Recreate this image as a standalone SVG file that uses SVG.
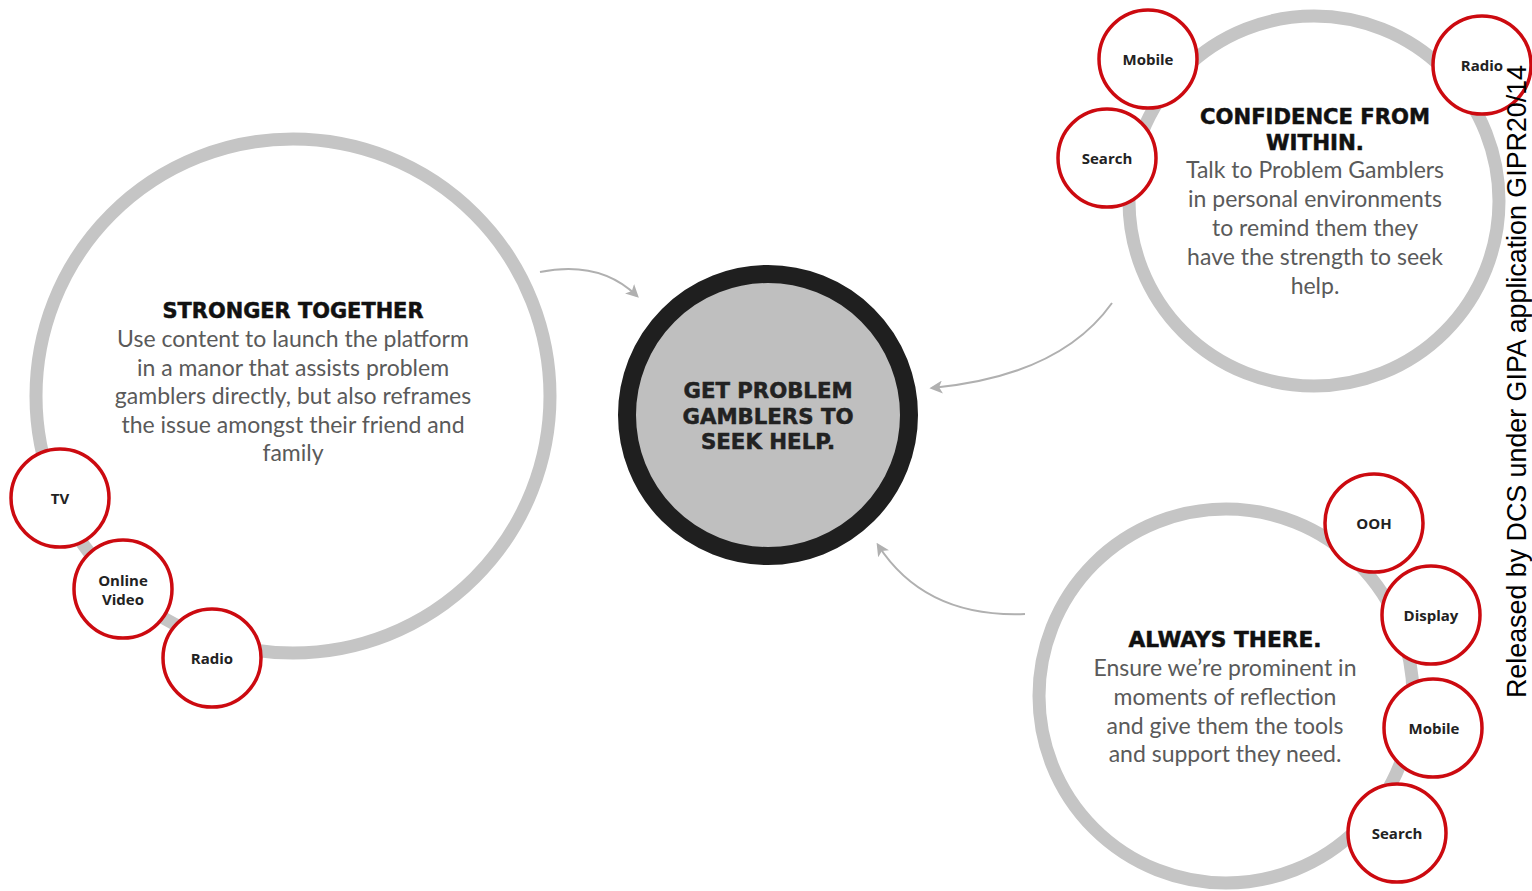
<svg xmlns="http://www.w3.org/2000/svg" width="1532" height="891" viewBox="0 0 1532 891">
<defs>
<style>
.ring{fill:#fff;stroke:#c5c5c5;stroke-width:13}
.chip{fill:#fff;stroke:#cc0a10;stroke-width:3.5}
.chiptxt{font-family:"Open Sans","Lato","Liberation Sans",sans-serif;font-weight:700;font-size:15px;fill:#222;text-anchor:middle}
.head{font-family:"DejaVu Sans","Liberation Sans",sans-serif;font-weight:700;font-size:21px;fill:#111;stroke:#111;stroke-width:0.5;text-anchor:middle}
.body{font-family:"Lato","Liberation Sans",sans-serif;font-weight:400;font-size:23px;fill:#5a5a5a;text-anchor:middle}
.conn{fill:none;stroke:#b0b0b0;stroke-width:2}
.note{font-family:"Liberation Sans",Arial,sans-serif;font-size:28px;fill:#000}
</style>
<marker id="ah" viewBox="0 0 10 10" refX="8" refY="5" markerWidth="13" markerHeight="13" orient="auto" markerUnits="userSpaceOnUse">
<path d="M0,0 L10,5 L0,10 L2.5,5 z" fill="#b0b0b0"/>
</marker>
</defs>
<rect width="1532" height="891" fill="#fff"/>

<g id="connectors">
<path class="conn" d="M540,272 Q600,260 637,296" marker-end="url(#ah)"/>
<path class="conn" d="M1112,303 Q1060,376 932,388" marker-end="url(#ah)"/>
<path class="conn" d="M1025,614 Q925,618 878,545" marker-end="url(#ah)"/>
</g>

<g id="stronger-together">
<circle class="ring" cx="293" cy="396" r="257"/>
<text class="head" x="293" y="318" textLength="261" lengthAdjust="spacingAndGlyphs">STRONGER TOGETHER</text>
<text class="body" x="293" y="347">Use content to launch the platform</text>
<text class="body" x="293" y="376">in a manor that assists problem</text>
<text class="body" x="293" y="404">gamblers directly, but also reframes</text>
<text class="body" x="293" y="433">the issue amongst their friend and</text>
<text class="body" x="293" y="461">family</text>
</g>
<g id="left-tv"><circle class="chip" cx="60" cy="498" r="49"/><text class="chiptxt" x="60" y="504">TV</text></g>
<g id="left-online-video"><circle class="chip" cx="123" cy="589" r="49"/><text class="chiptxt" x="123" y="586">Online</text><text class="chiptxt" x="123" y="605">Video</text></g>
<g id="left-radio"><circle class="chip" cx="212" cy="658" r="49"/><text class="chiptxt" x="212" y="664">Radio</text></g>

<g id="goal">
<circle cx="768" cy="415" r="141" fill="#bfbfbf" stroke="#1f1f1f" stroke-width="18"/>
<text class="head" x="768" y="398" style="fill:#222;stroke:#222" textLength="169" lengthAdjust="spacingAndGlyphs">GET PROBLEM</text>
<text class="head" x="768" y="424" style="fill:#222;stroke:#222" textLength="171" lengthAdjust="spacingAndGlyphs">GAMBLERS TO</text>
<text class="head" x="768" y="449" style="fill:#222;stroke:#222" textLength="134" lengthAdjust="spacingAndGlyphs">SEEK HELP.</text>
</g>

<g id="confidence-from-within">
<circle class="ring" cx="1314" cy="201" r="185"/>
<text class="head" x="1315" y="124" textLength="230" lengthAdjust="spacingAndGlyphs">CONFIDENCE FROM</text>
<text class="head" x="1315" y="150" textLength="98" lengthAdjust="spacingAndGlyphs">WITHIN.</text>
<text class="body" x="1315" y="178">Talk to Problem Gamblers</text>
<text class="body" x="1315" y="207">in personal environments</text>
<text class="body" x="1315" y="236">to remind them they</text>
<text class="body" x="1315" y="265">have the strength to seek</text>
<text class="body" x="1315" y="294">help.</text>
</g>
<g id="tr-mobile"><circle class="chip" cx="1148" cy="59" r="49"/><text class="chiptxt" x="1148" y="65">Mobile</text></g>
<g id="tr-search"><circle class="chip" cx="1107" cy="158" r="49"/><text class="chiptxt" x="1107" y="164">Search</text></g>
<g id="tr-radio"><circle class="chip" cx="1482" cy="65" r="49"/><text class="chiptxt" x="1482" y="71">Radio</text></g>

<g id="always-there">
<circle class="ring" cx="1226" cy="696" r="187"/>
<text class="head" x="1225" y="647" textLength="193" lengthAdjust="spacingAndGlyphs">ALWAYS THERE.</text>
<text class="body" x="1225" y="676">Ensure we’re prominent in</text>
<text class="body" x="1225" y="705">moments of reflection</text>
<text class="body" x="1225" y="734">and give them the tools</text>
<text class="body" x="1225" y="762">and support they need.</text>
</g>
<g id="br-ooh"><circle class="chip" cx="1374" cy="523" r="49"/><text class="chiptxt" x="1374" y="529">OOH</text></g>
<g id="br-display"><circle class="chip" cx="1431" cy="615" r="49"/><text class="chiptxt" x="1431" y="621">Display</text></g>
<g id="br-mobile"><circle class="chip" cx="1433" cy="728" r="49"/><text class="chiptxt" x="1434" y="734">Mobile</text></g>
<g id="br-search"><circle class="chip" cx="1397" cy="833" r="49"/><text class="chiptxt" x="1397" y="839">Search</text></g>

<text class="note" transform="translate(1526,698) rotate(-90)" textLength="633" lengthAdjust="spacingAndGlyphs">Released by DCS under GIPA application GIPR20/14</text>
</svg>
